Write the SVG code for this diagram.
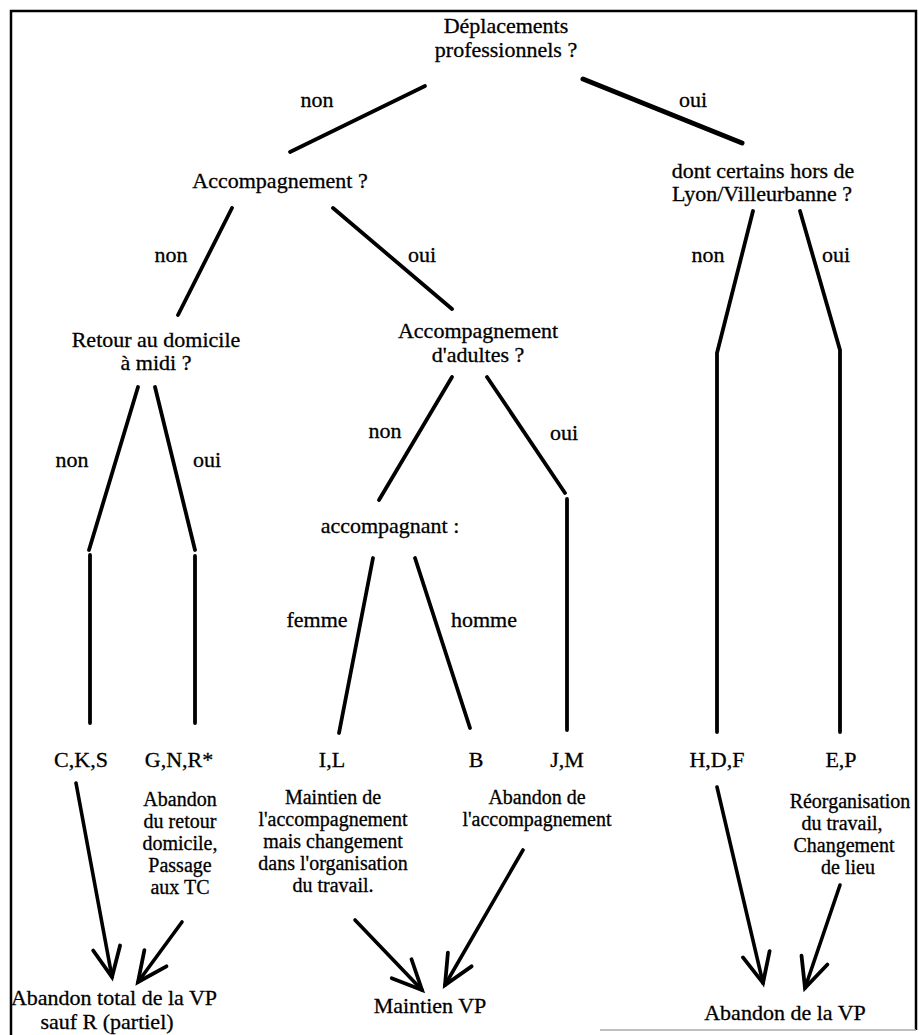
<svg xmlns="http://www.w3.org/2000/svg" width="919" height="1035" viewBox="0 0 919 1035">
<style>
  text { font-family: "Liberation Serif", "Times New Roman", serif; font-size: 22px; fill: #000; stroke: #000; stroke-width: 0.3; text-anchor: middle; }
  .desc text { font-size: 20px; }
  .ln { stroke: #000; stroke-width: 3.8; fill: none; stroke-linecap: round; }
  .thick { stroke-width: 5; }
  .arr { stroke: #000; stroke-width: 3.6; fill: none; stroke-linecap: round; marker-end: url(#v); }
  .frame { stroke: #000; stroke-width: 2.5; fill: none; }
</style>
<defs>
  <marker id="v" markerUnits="userSpaceOnUse" markerWidth="40" markerHeight="40" viewBox="-34 -18 38 36" refX="0" refY="0" orient="auto" overflow="visible">
    <path d="M-28,-13 L0,0 L-28,13" stroke="#000" stroke-width="3.6" fill="none" stroke-linecap="round" stroke-linejoin="miter"/>
  </marker>
</defs>
<rect width="919" height="1035" fill="#fff"/>
<g id="frame">
  <path class="frame" d="M11,1035 L11,11 L916,11 L916,1030"/>
  <line x1="600" y1="1030" x2="916" y2="1030" stroke="#aaa" stroke-width="1.5"/>
</g>
<g id="connectors">
  <line class="ln" x1="425" y1="86" x2="290" y2="152"/>
  <line class="ln thick" x1="583" y1="79" x2="742" y2="143"/>
  <line class="ln" x1="232" y1="208" x2="178" y2="315"/>
  <line class="ln" x1="333" y1="208" x2="452" y2="309"/>
  <polyline class="ln" points="753,211 717,353 717,732"/>
  <polyline class="ln" points="800,211 840,350 840,732"/>
  <line class="ln" x1="138" y1="387" x2="89" y2="550"/>
  <line class="ln" x1="90" y1="555" x2="90" y2="723"/>
  <line class="ln" x1="155" y1="387" x2="195" y2="550"/>
  <line class="ln" x1="195" y1="556" x2="195" y2="723"/>
  <line class="ln" x1="452" y1="377" x2="379" y2="500"/>
  <line class="ln" x1="487" y1="377" x2="565" y2="493"/>
  <line class="ln" x1="567" y1="499" x2="567" y2="730"/>
  <line class="ln" x1="373" y1="558" x2="339" y2="733"/>
  <line class="ln" x1="415" y1="558" x2="470" y2="728"/>
  <line class="arr" x1="76" y1="783" x2="112" y2="977"/>
  <line class="arr" x1="182" y1="922" x2="138" y2="982"/>
  <line class="arr" x1="355" y1="920" x2="422" y2="990"/>
  <line class="arr" x1="523" y1="850" x2="445" y2="985"/>
  <line class="arr" x1="717" y1="787" x2="763" y2="983"/>
  <line class="arr" x1="840" y1="885" x2="805" y2="988"/>
</g>
<g id="edge-labels">
  <text x="317" y="107">non</text>
  <text x="693" y="107">oui</text>
  <text x="171" y="262">non</text>
  <text x="422" y="262">oui</text>
  <text x="708" y="262">non</text>
  <text x="836" y="262">oui</text>
  <text x="72" y="467">non</text>
  <text x="207" y="467">oui</text>
  <text x="385" y="438">non</text>
  <text x="564" y="440">oui</text>
  <text x="317" y="627">femme</text>
  <text x="484" y="627">homme</text>
</g>
<g id="n-deplacements">
  <text x="506" y="33">Déplacements</text>
  <text x="506" y="57">professionnels ?</text>
</g>
<g id="n-accompagnement">
  <text x="280" y="188">Accompagnement ?</text>
</g>
<g id="n-hors-lyon">
  <text x="763" y="178">dont certains hors de</text>
  <text x="762" y="201">Lyon/Villeurbanne ?</text>
</g>
<g id="n-retour">
  <text x="156" y="347">Retour au domicile</text>
  <text x="156" y="370">à midi ?</text>
</g>
<g id="n-adultes">
  <text x="478" y="338">Accompagnement</text>
  <text x="478" y="362">d'adultes ?</text>
</g>
<g id="n-accompagnant">
  <text x="390" y="533">accompagnant :</text>
</g>
<g id="leaf-cks"><text x="81" y="767">C,K,S</text></g>
<g id="leaf-gnr"><text x="179" y="767">G,N,R*</text></g>
<g id="leaf-il"><text x="332" y="767">I,L</text></g>
<g id="leaf-b"><text x="476" y="767">B</text></g>
<g id="leaf-jm"><text x="567" y="767">J,M</text></g>
<g id="leaf-hdf"><text x="717" y="767">H,D,F</text></g>
<g id="leaf-ep"><text x="841" y="767">E,P</text></g>
<g id="d-gnr" class="desc">
  <text x="180" y="806">Abandon</text>
  <text x="180" y="828">du retour</text>
  <text x="180" y="850">domicile,</text>
  <text x="180" y="872">Passage</text>
  <text x="180" y="894">aux TC</text>
</g>
<g id="d-il" class="desc">
  <text x="333" y="804">Maintien de</text>
  <text x="333" y="826">l'accompagnement</text>
  <text x="333" y="848">mais changement</text>
  <text x="333" y="870">dans l'organisation</text>
  <text x="333" y="892">du travail.</text>
</g>
<g id="d-bjm" class="desc">
  <text x="537" y="804">Abandon de</text>
  <text x="537" y="826">l'accompagnement</text>
</g>
<g id="d-ep" class="desc">
  <text x="850" y="808">Réorganisation</text>
  <text x="842" y="830">du travail,</text>
  <text x="844" y="852">Changement</text>
  <text x="848" y="874">de lieu</text>
</g>
<g id="r-abandon-total">
  <text x="114" y="1005">Abandon total de la VP</text>
  <text x="107" y="1029">sauf R (partiel)</text>
</g>
<g id="r-maintien">
  <text x="430" y="1013">Maintien VP</text>
</g>
<g id="r-abandon">
  <text x="785" y="1020">Abandon de la VP</text>
</g>
</svg>
